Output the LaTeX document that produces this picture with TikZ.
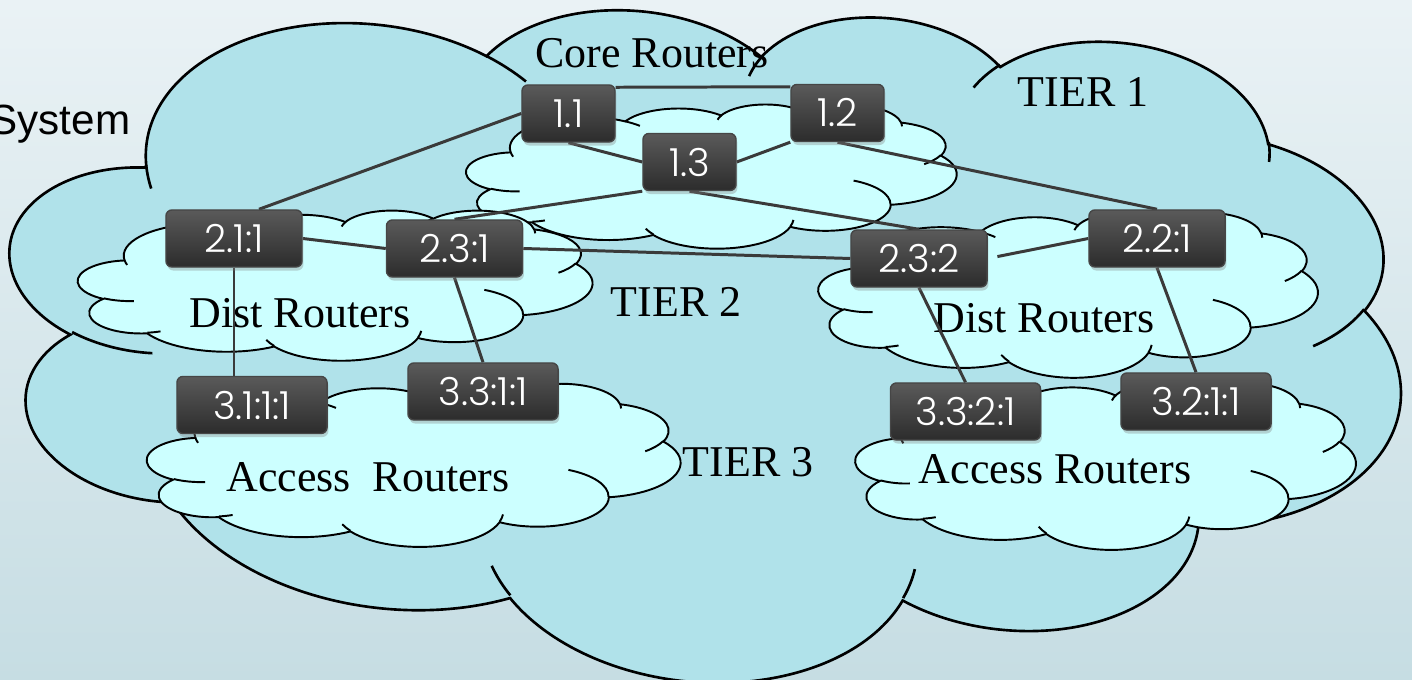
\documentclass[tikz,border=0pt]{standalone}
\usepackage{fontspec}
\setmainfont{Liberation Serif}
\newfontfamily\boxfont{Poppins Light}
\newfontfamily\sysfont{Liberation Sans}
\usetikzlibrary{calc,shadows}
\pgfdeclarelayer{bglayer}
\pgfdeclarelayer{linklayer}
\pgfsetlayers{bglayer,linklayer,main}
\definecolor{bgtop}{RGB}{234,242,245}
\definecolor{bgbot}{RGB}{198,221,227}
\definecolor{bigcloud}{RGB}{176,226,234}
\definecolor{smallcloud}{RGB}{204,255,255}
\definecolor{boxtop}{RGB}{90,90,90}
\definecolor{boxbot}{RGB}{44,44,44}
\definecolor{boxedge}{RGB}{70,70,70}
\definecolor{linkc}{RGB}{58,58,58}
% arc of a PowerPoint-style cloud lobe: wR, hR, start angle, sweep (visual angles)
\newcommand\ca[4]{arc[x radius=#1, y radius=#2, start angle={atan2(#1*sin(#3),#2*cos(#3))}, delta angle={mod(atan2(#1*sin(#3+#4),#2*cos(#3+#4))-atan2(#1*sin(#3),#2*cos(#3))+720,360)}]}
\newcommand\cloudshape{(3.9,14.37) \ca{6.753}{9.19}{-190.48748}{123.78053} \ca{5.333}{7.267}{-144.10238}{89.94523} \ca{4.365}{5.945}{-145.80792}{99.72302} \ca{4.857}{6.595}{-130.98607}{117.24173} \ca{5.333}{7.273}{-78.70888}{109.02692} \ca{6.775}{9.22}{-46.26725}{130.269} \ca{5.785}{7.867}{0.62502}{114.03333} \ca{6.752}{9.215}{22.4516}{115.17255} \ca{7.72}{10.543}{66.24263}{75.71102} \ca{4.36}{5.918}{-274.94208}{146.73557} \ca{4.345}{5.945}{-246.8285}{152.51885} -- cycle}
\newcommand\cloudcreases{(4.693,26.177) \ca{4.345}{5.945}{86.742}{26.4295} (6.928,34.899) \ca{4.36}{5.918}{73.6105}{11.4475} (16.478,39.09) \ca{6.752}{9.215}{137.6242}{14.0811} (28.827,34.751) \ca{6.752}{9.215}{6.4533}{15.9984} (34.129,22.954) \ca{5.785}{7.867}{-70.2924}{70.9174} (41.798,15.354) \ca{5.333}{7.273}{30.318}{27.7515} (38.324,5.426) \ca{4.857}{6.595}{-13.7443}{14.8589} (29.078,3.952) \ca{4.857}{6.595}{-149.1815}{18.1954} (22.141,4.72) \ca{4.365}{5.945}{-163.4943}{17.6864} (14,5.192) \ca{6.753}{9.19}{-66.707}{12.3194} (4.127,15.789) \ca{6.753}{9.19}{157.6544}{11.8582}}
\tikzset{
  bigcl/.style={fill=bigcloud, draw=black, line width=0.75pt},
  smallcl/.style={fill=smallcloud, draw=black, line width=0.55pt},
  crease/.style={draw=black, line width=0.55pt},
  router/.style={rectangle, rounded corners=1.7pt, top color=boxtop, bottom color=boxbot, draw=boxedge, line width=0.4pt, text=white, font=\boxfont\fontsize{11}{12}\selectfont, minimum height=0.57cm, inner sep=0pt, drop shadow={shadow xshift=0.4pt, shadow yshift=-1pt, opacity=0.35}},
  rone/.style={router, minimum width=0.93cm},
  rtwo/.style={router, minimum width=1.36cm},
  rthree/.style={router, minimum width=1.50cm},
  link/.style={draw=linkc, line width=0.85pt},
  lbl/.style={font=\fontsize{12.5}{14}\selectfont, inner sep=0pt, anchor=base}
}
\begin{document}
\begin{tikzpicture}[x=0.01cm, y=-0.01cm]
\useasboundingbox (0,0) rectangle (1412,680);
\begin{pgfonlayer}{bglayer}
\begin{scope}
\clip (0,0) rectangle (1412,680);
\shade[top color=bgtop, bottom color=bgbot] (0,0) rectangle (1412,680);
% big cloud
\begin{scope}[x=1cm, y=1cm, shift={(7.035,-3.385)}, rotate=-6, xscale=0.32338, yscale=-0.15741, shift={(-21.6,-21.6)}]
  \path[bigcl] \cloudshape;
  \path[crease, line width=0.75pt] \cloudcreases;
\end{scope}
% core cloud
\begin{scope}[x=1cm, y=1cm, shift={(7.11,-1.76)}, xscale=0.113426, yscale=-0.033333, shift={(-21.6,-21.6)}]
  \path[smallcl] \cloudshape;
  \path[crease] \cloudcreases;
\end{scope}
% left dist cloud
\begin{scope}[x=1cm, y=1cm, shift={(3.35,-2.85)}, xscale=0.118981, yscale=-0.034722, shift={(-21.6,-21.6)}]
  \path[smallcl] \cloudshape;
  \path[crease] \cloudcreases;
\end{scope}
% right dist cloud
\begin{scope}[x=1cm, y=1cm, shift={(10.675,-2.945)}, xscale=0.115509, yscale=-0.038194, shift={(-21.6,-21.6)}]
  \path[smallcl] \cloudshape;
  \path[crease] \cloudcreases;
\end{scope}
% left access cloud
\begin{scope}[x=1cm, y=1cm, shift={(4.135,-4.645)}, xscale=0.12338, yscale=-0.037731, shift={(-21.6,-21.6)}]
  \path[smallcl] \cloudshape;
  \path[crease] \cloudcreases;
\end{scope}
% right access cloud
\begin{scope}[x=1cm, y=1cm, shift={(11.05,-4.655)}, xscale=0.115741, yscale=-0.038657, shift={(-21.6,-21.6)}]
  \path[smallcl] \cloudshape;
  \path[crease] \cloudcreases;
\end{scope}
% labels
\node[anchor=base east, font=\sysfont\fontsize{12}{14}\selectfont, inner sep=0pt] (sys) at (131,135) {System};
\node[lbl] (core) at (652,68) {Core Routers};
\node[lbl] (t1) at (1083,107) {TIER 1};
\node[lbl] (t2) at (676,317) {TIER 2};
\node[lbl] (t3) at (748,477) {TIER 3};
\node[lbl] (dl) at (300,328) {Dist Routers};
\node[lbl] (dr) at (1044,333) {Dist Routers};
\node[lbl] (al) at (368,492) {Access\ \ Routers};
\node[lbl] (ar) at (1055,484) {Access Routers};
\end{scope}
\end{pgfonlayer}
% routers
\node[rone] (n11) at (568.5,113.5) {1.1};
\node[rone] (n12) at (837.5,113) {1.2};
\node[rone] (n13) at (689.5,162) {1.3};
\node[rtwo] (n21) at (234,238.5) {2.1:1};
\node[rtwo] (n231) at (454.5,248.5) {2.3:1};
\node[rtwo] (n232) at (919,258.5) {2.3:2};
\node[rtwo] (n221) at (1157,238.5) {2.2:1};
\node[rthree] (n311) at (252,405) {3.1:1:1};
\node[rthree] (n331) at (483,391.5) {3.3:1:1};
\node[rthree] (n3321) at (965.5,411.5) {3.3:2:1};
\node[rthree] (n3211) at (1196,401.5) {3.2:1:1};
% links, below the routers
\begin{pgfonlayer}{linklayer}
\draw[link] ($(n11.north east)+(0,3)$) -- ($(n12.north west)+(0,3)$);
\draw[link] (n11.south) -- (n13.west);
\draw[link] (n12.south west) -- (n13.east);
\draw[link] (n11.west) -- ($(n21.north)+(25,0)$);
\draw[link] (n13.south west) -- (n231.north);
\draw[link] (n13.south) -- (n232.north);
\draw[link] (n12.south) -- (n221.north);
\draw[link] (n21.east) -- (n231.west);
\draw[link] (n231.east) -- (n232.west);
\draw[link, shorten <=2.8pt] (n232.east) -- (n221.west);
\draw[link] (n21.south) -- (n21.south |- n311.north);
\draw[link] (n231.south) -- (n331.north);
\draw[link] (n232.south) -- (n3321.north);
\draw[link] (n221.south) -- (n3211.north);
\end{pgfonlayer}
\end{tikzpicture}
\end{document}
